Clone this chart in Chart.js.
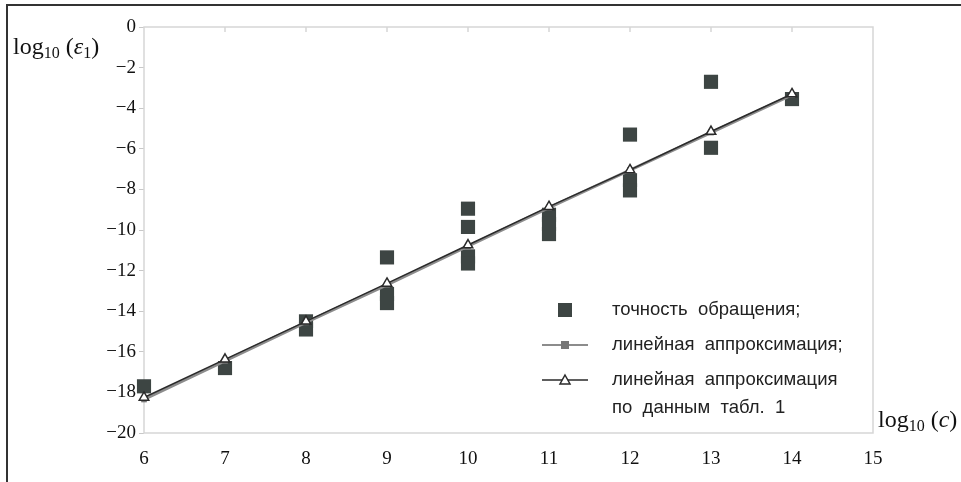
<!DOCTYPE html>
<html>
<head>
<meta charset="utf-8">
<script src="https://cdn.jsdelivr.net/npm/chart.js@4.4.0/dist/chart.umd.min.js"></script>
<style>
  html, body { margin: 0; padding: 0; background: #fff; overflow: hidden; }
  #wrap { position: relative; width: 961px; height: 482px; overflow: hidden; }
  #frame { position: absolute; left: 6px; top: 4px; width: 2000px; height: 2000px;
           border-left: 2px solid #333; border-top: 2px solid #333; pointer-events: none; }
  .title { position: absolute; font-family: "Liberation Serif", "DejaVu Serif", serif;
           font-size: 24px; color: #111; white-space: nowrap; line-height: 1; }
  .title sub { font-size: 16px; vertical-align: -4px; }
  .title i { font-style: italic; }
  #ytitle { left: 13px; top: 34px; }
  #xtitle { left: 878px; top: 407px; }
</style>
</head>
<body>
<div id="wrap">
  <canvas id="chart" width="961" height="482"></canvas>
  <div id="frame"></div>
  <div class="title" id="ytitle">log<sub>10</sub> (<i>ε</i><sub>1</sub>)</div>
  <div class="title" id="xtitle">log<sub>10</sub> (<i>c</i>)</div>
</div>
<script>
// Measured points: log10(c) and log10(eps1)
const pointX = [6, 7, 8, 8, 9, 9, 9, 10, 10, 10, 10, 11, 11, 11, 12, 12, 12, 13, 13, 14];
const pointY = [-17.7, -16.8, -14.9, -14.5, -11.35, -13.15, -13.6, -8.95, -9.85, -11.3, -11.65,
                -9.25, -9.7, -10.2, -5.3, -7.55, -8.05, -2.7, -5.95, -3.55];

// Linear approximation (own fit) and approximation from table 1
const fitX = [6, 7, 8, 9, 10, 11, 12, 13, 14];
const fitY = [-18.35, -16.45, -14.55, -12.7, -10.8, -8.9, -7.05, -5.2, -3.35];
const tableY = [-18.25, -16.37, -14.5, -12.63, -10.74, -8.85, -7.04, -5.15, -3.3];

const xTicks = [6, 7, 8, 9, 10, 11, 12, 13, 14, 15];
const yTicks = [0, -2, -4, -6, -8, -10, -12, -14, -16, -18, -20];

const legendLabels = [
    ['точность  обращения;'],
    ['линейная  аппроксимация;'],
    ['линейная  аппроксимация', 'по  данным  табл.  1']
];

const squareColor = '#3d4543';
const grayLine = '#8c8c8c';
const darkLine = '#2a2a2a';

function toXY(xs, ys) {
    return xs.map((x, i) => ({ x: x, y: ys[i] }));
}

// box round the plot area plus small inward ticks on top edge
const framePlugin = {
    id: 'plotFrame',
    beforeDatasetsDraw(chart) {
        const { ctx, chartArea: a, scales } = chart;
        ctx.save();
        ctx.strokeStyle = '#d6d6d6';
        ctx.lineWidth = 1.5;
        ctx.strokeRect(a.left, a.top, a.right - a.left, a.bottom - a.top);
        ctx.beginPath();
        xTicks.slice(1, -1).forEach(v => {
            const px = scales.x.getPixelForValue(v);
            ctx.moveTo(px, a.top);
            ctx.lineTo(px, a.top + 5);
        });
        ctx.stroke();
        ctx.restore();
    }
};

// legend placed inside the plot, like the original
const legendPlugin = {
    id: 'innerLegend',
    afterDraw(chart) {
        const ctx = chart.ctx;
        const markX = 565, textX = 612;
        const rows = [310, 345, 380];
        ctx.save();
        ctx.font = '18.5px "Liberation Sans", Arial, sans-serif';
        ctx.fillStyle = '#222';
        ctx.textBaseline = 'middle';
        legendLabels.forEach((lines, i) => {
            lines.forEach((t, j) => ctx.fillText(t, textX, rows[i] + j * 28));
        });
        // square marker
        ctx.fillStyle = squareColor;
        ctx.fillRect(markX - 7, rows[0] - 7, 14, 14);
        // gray line with square
        ctx.strokeStyle = grayLine;
        ctx.lineWidth = 2;
        ctx.beginPath();
        ctx.moveTo(542, rows[1]);
        ctx.lineTo(588, rows[1]);
        ctx.stroke();
        ctx.fillStyle = '#777';
        ctx.fillRect(markX - 4, rows[1] - 4, 8, 8);
        // dark line with triangle
        ctx.strokeStyle = darkLine;
        ctx.lineWidth = 1.5;
        ctx.beginPath();
        ctx.moveTo(542, rows[2]);
        ctx.lineTo(588, rows[2]);
        ctx.stroke();
        ctx.beginPath();
        ctx.moveTo(markX, rows[2] - 5);
        ctx.lineTo(markX + 5, rows[2] + 4);
        ctx.lineTo(markX - 5, rows[2] + 4);
        ctx.closePath();
        ctx.fillStyle = '#fff';
        ctx.fill();
        ctx.stroke();
        ctx.restore();
    }
};

const ctx = document.getElementById('chart').getContext('2d');
new Chart(ctx, {
    type: 'scatter',
    data: {
        datasets: [
            {
                label: 'точность обращения',
                data: toXY(pointX, pointY),
                pointStyle: 'rect',
                pointRadius: 10,
                pointHoverRadius: 10,
                backgroundColor: squareColor,
                borderColor: squareColor,
                borderWidth: 0,
                clip: false,
                order: 3
            },
            {
                type: 'line',
                label: 'линейная аппроксимация',
                data: toXY(fitX, fitY),
                borderColor: grayLine,
                borderWidth: 3,
                pointStyle: 'rect',
                pointRadius: 4,
                backgroundColor: '#777',
                pointBorderWidth: 0,
                tension: 0,
                clip: false,
                order: 2
            },
            {
                type: 'line',
                label: 'линейная аппроксимация по данным табл. 1',
                data: toXY(fitX, tableY),
                borderColor: darkLine,
                borderWidth: 1.5,
                pointStyle: 'triangle',
                pointRadius: 5.5,
                pointBorderWidth: 1.5,
                pointBorderColor: darkLine,
                pointBackgroundColor: '#fff',
                tension: 0,
                clip: false,
                order: 1
            }
        ]
    },
    options: {
        responsive: false,
        animation: false,
        layout: { padding: { left: 0, top: 27, right: 88, bottom: 0 } },
        plugins: {
            legend: { display: false },
            tooltip: { enabled: false }
        },
        scales: {
            x: {
                type: 'linear',
                min: 6,
                max: 15,
                afterFit: s => { s.height = 49; },
                afterBuildTicks: s => { s.ticks = xTicks.map(v => ({ value: v })); },
                grid: { display: false, drawTicks: false },
                border: { display: false },
                ticks: {
                    padding: 15,
                    color: '#111',
                    font: { family: '"Liberation Serif", "DejaVu Serif", serif', size: 19 }
                }
            },
            y: {
                min: -20,
                max: 0,
                afterFit: s => { s.width = 144; },
                afterBuildTicks: s => { s.ticks = yTicks.map(v => ({ value: v })); },
                grid: { drawOnChartArea: false, drawTicks: true, tickLength: 5, color: '#c8c8c8' },
                border: { display: false },
                ticks: {
                    padding: 3,
                    color: '#111',
                    font: { family: '"Liberation Serif", "DejaVu Serif", serif', size: 19 },
                    callback: v => String(v).replace('-', '\u2212')
                }
            }
        }
    },
    plugins: [framePlugin, legendPlugin]
});
</script>
</body>
</html>
